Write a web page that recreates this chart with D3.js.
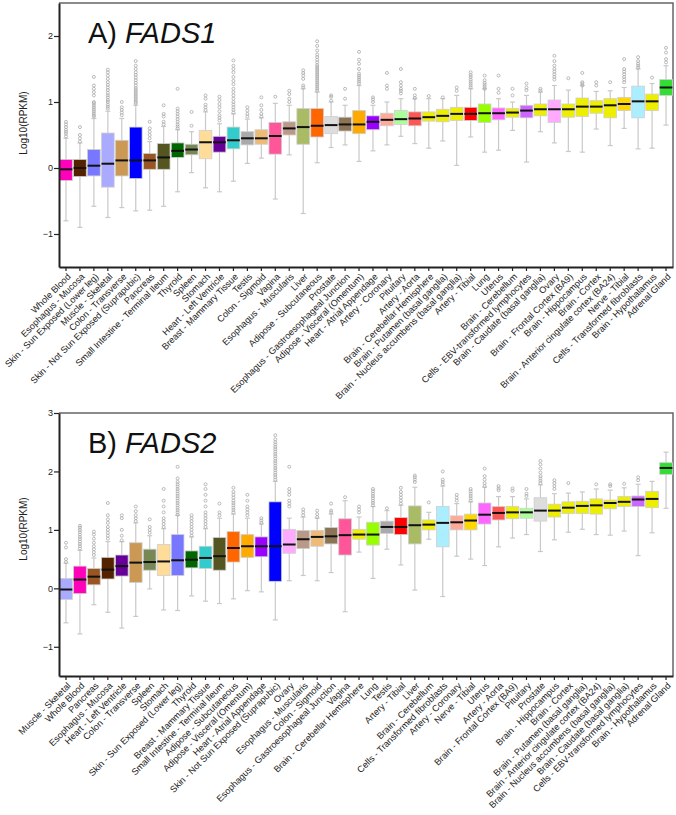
<!DOCTYPE html>
<html><head><meta charset="utf-8">
<script src="https://cdn.jsdelivr.net/npm/d3@7"></script>
<style>body{margin:0;background:#fff}svg{display:block}</style>
</head><body>
<svg id="c" width="676" height="815"></svg>
<script>
// ---------- Panel A: FADS1 ----------
const tissuesA = ["Whole Blood","Esophagus - Mucosa","Skin - Sun Exposed (Lower leg)","Muscle - Skeletal","Colon - Transverse","Skin - Not Sun Exposed (Suprapubic)","Pancreas","Small Intestine - Terminal Ileum","Thyroid","Spleen","Stomach","Heart - Left Ventricle","Breast - Mammary Tissue","Testis","Colon - Sigmoid","Vagina","Esophagus - Muscularis","Liver","Adipose - Subcutaneous","Prostate","Esophagus - Gastroesophageal Junction","Adipose - Visceral (Omentum)","Heart - Atrial Appendage","Artery - Coronary","Pituitary","Artery - Aorta","Brain - Cerebellar Hemisphere","Brain - Putamen (basal ganglia)","Brain - Nucleus accumbens (basal ganglia)","Artery - Tibial","Lung","Uterus","Brain - Cerebellum","Cells - EBV-transformed lymphocytes","Brain - Caudate (basal ganglia)","Ovary","Brain - Frontal Cortex (BA9)","Brain - Hippocampus","Brain - Cortex","Brain - Anterior cingulate cortex (BA24)","Nerve - Tibial","Cells - Transformed fibroblasts","Brain - Hypothalamus","Adrenal Gland"];
const loA  = [-0.8,-0.9,-0.58,-0.75,-0.6,-0.65,-0.64,-0.58,-0.36,-0.07,-0.3,-0.36,-0.2,0.07,0.15,-0.47,0.2,-0.69,0.08,0.31,0.35,0.1,0.26,0.35,0.48,0.37,0.3,0.41,0.04,0.47,0.24,0.27,0.57,0.09,0.55,0.38,0.25,0.24,0.59,0.34,0.6,0.29,0.3,0.65];
const q1A  = [-0.19,-0.13,-0.12,-0.29,-0.12,-0.16,-0.02,-0.02,0.16,0.2,0.14,0.24,0.29,0.35,0.36,0.21,0.5,0.36,0.47,0.52,0.56,0.52,0.58,0.64,0.66,0.64,0.71,0.7,0.72,0.72,0.69,0.73,0.77,0.76,0.79,0.69,0.77,0.78,0.83,0.76,0.87,0.76,0.87,1.1];
const medA = [-0.02,0.0,0.035,0.065,0.115,0.115,0.115,0.16,0.26,0.28,0.39,0.39,0.42,0.45,0.45,0.485,0.6,0.62,0.64,0.65,0.66,0.66,0.7,0.73,0.74,0.75,0.77,0.79,0.82,0.82,0.83,0.83,0.84,0.87,0.89,0.89,0.89,0.93,0.93,0.95,0.97,1.01,1.01,1.22];
const q3A  = [0.13,0.13,0.28,0.53,0.42,0.62,0.22,0.37,0.38,0.36,0.57,0.48,0.62,0.55,0.58,0.69,0.7,0.9,0.9,0.78,0.77,0.87,0.79,0.83,0.87,0.85,0.85,0.89,0.92,0.92,0.97,0.91,0.9,0.95,0.97,1.03,0.97,1.06,1.02,1.05,1.07,1.24,1.12,1.34];
const hiA  = [0.45,0.38,0.75,0.86,0.75,0.95,0.4,0.63,0.58,0.55,0.85,0.67,0.82,0.74,0.76,0.98,0.95,1.2,1.15,1.0,0.95,1.25,0.95,1.0,1.05,1.05,1.05,1.05,1.1,1.2,1.2,1.05,1.0,1.1,1.15,1.25,1.18,1.25,1.16,1.17,1.22,1.5,1.28,1.55];
const outA = [
 [0.48,0.52,0.55,0.58,0.62,0.66,0.7],[0.4,0.45,0.5,0.62],
 [0.78,0.8,0.83,0.86,0.89,0.92,0.95,0.98,1.0,1.1,1.15,1.2,1.25,1.38],
 [0.9,0.93,0.96,1.0,1.03,1.07,1.1,1.14,1.18,1.22,1.26,1.3,1.35,1.4,1.45,1.49],
 [0.8,0.84,0.88,0.92,1.0],
 [0.98,1.0,1.03,1.06,1.09,1.12,1.15,1.18,1.21,1.25,1.29,1.33,1.37,1.41,1.45,1.5,1.55,1.62],
 [0.45,0.5,0.55,0.6,0.7],[0.66,0.7,0.78,0.82,0.95],
 [0.6,0.63,0.66,0.7,0.74,0.78,0.82,0.86,0.9,1.2],[0.64,0.85],
 [0.88,0.92,0.96,1.05,1.1],[0.72,0.76,0.8,0.86,0.92,0.97,1.03,1.08],
 [0.84,0.88,0.92,0.96,1.0,1.05,1.1,1.15,1.2,1.27,1.32,1.38,1.45,1.5,1.55,1.63],
 [0.78,0.82,0.87,0.92],[0.78,0.82,0.88,0.95,1.07],[1.08],[1.0,1.05,1.12,1.17],
 [1.22,1.25,1.35,1.4,1.44,1.48],
 [1.17,1.2,1.23,1.26,1.29,1.32,1.35,1.38,1.41,1.44,1.47,1.5,1.53,1.56,1.6,1.64,1.68,1.72,1.78,1.85,1.92],
 [1.02,1.08,1.1],[1.05,1.2],[1.28,1.31,1.34,1.37,1.4,1.43,1.5,1.58,1.64,1.76],
 [1.0,1.04,1.07],[1.2,1.25,1.44],[1.13,1.17,1.2,1.25,1.3,1.5],[1.06,1.1,1.2],
 [1.09],[1.07],[1.17,1.22],[1.22,1.25,1.28,1.31,1.34,1.38,1.41,1.45],
 [1.2,1.23,1.26,1.29,1.33,1.4],[1.14,1.2,1.4],[1.1,1.2],[1.18,1.22,1.28],[1.17,1.2],
 [1.34,1.38,1.42,1.46,1.5,1.55,1.62,1.7],[1.36],[1.25,1.28,1.3,1.44],[1.25,1.3],[1.3],
 [1.3,1.34,1.38,1.42,1.46,1.5,1.65],[1.52,1.55,1.58,1.62,1.68],[1.37],[1.6,1.65,1.75,1.82]
];
const yTicksA = [-1,0,1,2];

// ---------- Panel B: FADS2 ----------
const tissuesB = ["Muscle - Skeletal","Whole Blood","Pancreas","Esophagus - Mucosa","Heart - Left Ventricle","Colon - Transverse","Spleen","Stomach","Skin - Sun Exposed (Lower leg)","Thyroid","Breast - Mammary Tissue","Small Intestine - Terminal Ileum","Adipose - Subcutaneous","Adipose - Visceral (Omentum)","Heart - Atrial Appendage","Skin - Not Sun Exposed (Suprapubic)","Ovary","Esophagus - Muscularis","Colon - Sigmoid","Esophagus - Gastroesophageal Junction","Vagina","Brain - Cerebellar Hemisphere","Lung","Testis","Artery - Tibial","Liver","Brain - Cerebellum","Cells - Transformed fibroblasts","Artery - Coronary","Nerve - Tibial","Uterus","Artery - Aorta","Brain - Frontal Cortex (BA9)","Pituitary","Prostate","Brain - Hippocampus","Brain - Cortex","Brain - Putamen (basal ganglia)","Brain - Anterior cingulate cortex (BA24)","Brain - Nucleus accumbens (basal ganglia)","Brain - Caudate (basal ganglia)","Cells - EBV-transformed lymphocytes","Brain - Hypothalamus","Adrenal Gland"];
const loB  = [-0.59,-0.78,-0.28,-0.41,-0.68,-0.48,-0.01,-0.37,-0.38,-0.13,-0.22,-0.26,-0.18,-0.04,-0.06,-0.54,0.13,0.22,0.13,0.27,-0.4,0.62,0.17,0.67,0.4,-0.03,0.84,-0.14,0.55,0.5,0.39,0.71,0.86,0.92,0.63,0.83,0.96,1.01,0.92,0.91,0.98,0.56,0.95,1.37];
const q1B  = [-0.19,-0.09,0.06,0.16,0.21,0.1,0.31,0.22,0.22,0.35,0.34,0.31,0.45,0.53,0.54,0.12,0.6,0.68,0.72,0.76,0.57,0.84,0.74,0.94,0.92,0.76,1.0,0.71,1.0,1.0,1.1,1.17,1.19,1.2,1.15,1.22,1.28,1.28,1.27,1.36,1.4,1.4,1.38,1.95];
const medB = [-0.02,0.15,0.2,0.32,0.38,0.44,0.45,0.46,0.48,0.49,0.52,0.55,0.69,0.72,0.72,0.72,0.75,0.84,0.88,0.89,0.91,0.92,0.92,1.05,1.05,1.08,1.09,1.12,1.13,1.16,1.26,1.29,1.3,1.3,1.33,1.33,1.38,1.41,1.42,1.46,1.48,1.52,1.53,2.06];
const q3B  = [0.17,0.38,0.34,0.53,0.57,0.78,0.67,0.75,0.92,0.64,0.72,0.87,0.97,0.92,0.88,1.48,1.01,0.99,0.99,1.04,1.19,1.01,1.13,1.15,1.21,1.41,1.17,1.4,1.24,1.27,1.46,1.4,1.4,1.37,1.55,1.44,1.48,1.49,1.53,1.51,1.57,1.58,1.66,2.15];
const hiB  = [0.43,0.65,0.52,0.8,0.8,1.12,0.9,1.02,1.25,0.88,1.02,1.2,1.27,1.2,1.1,1.83,1.2,1.22,1.2,1.27,1.5,1.22,1.4,1.33,1.42,1.73,1.3,1.75,1.45,1.48,1.73,1.57,1.57,1.53,1.77,1.62,1.63,1.65,1.7,1.68,1.72,1.78,1.83,2.33];
const outB = [
 [0.45,0.5,0.7,0.78],[0.68,0.72,0.76,0.8,0.84,0.88,0.92,0.96,1.0,1.04,1.07],
 [0.57,0.62,0.67,0.72,0.78,0.85,0.92,0.97],[0.85,0.9,0.95,1.0,1.05,1.12,1.18,1.25,1.46],
 [0.82,0.9,1.0,1.2,1.25],[1.15,1.2,1.25,1.32,1.4],[0.95,1.0,1.05,1.18],
 [1.05,1.1,1.15,1.2,1.3,1.4,1.5,1.7],
 [1.26,1.3,1.34,1.38,1.42,1.46,1.5,1.54,1.58,1.62,1.66,1.7,1.74,1.78,1.82,1.88,2.08],
 [0.9,0.95,1.0,1.05,1.1,1.15,1.2,1.25],
 [1.05,1.1,1.15,1.2,1.25,1.3,1.4,1.5,1.6,1.7,1.78],[1.25,1.3,1.45],
 [1.3,1.34,1.38,1.42,1.46,1.5,1.55,1.6,1.65,1.72],[1.25,1.3,1.35,1.4,1.5,1.6],[1.12,1.16,1.2],
 [1.86,1.9,1.94,1.98,2.02,2.06,2.1,2.14,2.18,2.22,2.26,2.3,2.34,2.38,2.42,2.46,2.5,2.55,2.62],
 [1.4,1.45,1.5,1.6,1.65,1.7,2.08],[1.25,1.3,1.35],[1.22,1.27,1.33],[1.3,1.33,1.45],
 [1.56],[1.3,1.35,1.4],[1.42,1.46,1.5,1.54,1.58,1.62,1.66,1.7],[1.37],
 [1.45,1.5,1.55,1.6,1.65,1.72],[1.82,1.86,1.9,1.93],[1.47],[1.78,1.82,1.86,2.0],
 [1.5,1.55,1.6],[1.5,1.54,1.58,1.62,1.66,1.7],[1.75,1.8,1.86,1.92,2.05],[1.68,1.71,1.75],
 [1.67,1.71],[1.58,1.62,1.7],[1.8,1.84,1.88,1.92,1.98,2.05,2.12,2.18],[1.7,1.75,1.8,1.85],
 [1.8],[],[1.78],[1.75,1.78],[1.79],[1.85,1.9],[],[]
];
const yTicksB = [-1,0,1,2,3];

// tissue colours (GTEx palette)
const tissueColor = {
 "Whole Blood":"#FF00BB","Esophagus - Mucosa":"#552200","Skin - Sun Exposed (Lower leg)":"#7777FF",
 "Muscle - Skeletal":"#AAAAFF","Colon - Transverse":"#CC9955","Skin - Not Sun Exposed (Suprapubic)":"#0000FF",
 "Pancreas":"#995522","Small Intestine - Terminal Ileum":"#555522","Thyroid":"#006600","Spleen":"#778855",
 "Stomach":"#FFDD99","Heart - Left Ventricle":"#660099","Breast - Mammary Tissue":"#33CCCC","Testis":"#AAAAAA",
 "Colon - Sigmoid":"#EEBB77","Vagina":"#FF5599","Esophagus - Muscularis":"#BB9988","Liver":"#AABB66",
 "Adipose - Subcutaneous":"#FF6600","Prostate":"#DDDDDD","Esophagus - Gastroesophageal Junction":"#8B7355",
 "Adipose - Visceral (Omentum)":"#FFAA00","Heart - Atrial Appendage":"#9900FF","Artery - Coronary":"#FFAA99",
 "Pituitary":"#AAFF99","Artery - Aorta":"#FF5555","Artery - Tibial":"#FF0000","Lung":"#99FF00","Uterus":"#FF66FF",
 "Cells - EBV-transformed lymphocytes":"#CC66FF","Ovary":"#FFAAFF","Nerve - Tibial":"#FFD700",
 "Cells - Transformed fibroblasts":"#AAEEFF","Adrenal Gland":"#33DD33"
};
const colorOf = t => tissueColor[t] || "#EEEE00";

const svg = d3.select("#c");
const FONT = "Arial, 'Liberation Sans', Helvetica, sans-serif";

function panel(cfg){
  const {tissues, lo, q1, med, q3, hi, out, domain, ticks, top, bottom, title, label, labelY} = cfg;
  const left = 59, right = 673;
  const x = d3.scaleBand().domain(tissues).range([left, right]).paddingInner(0.09).paddingOuter(0.045);
  const y = d3.scaleLinear().domain(domain).range([bottom, top]);
  const g = svg.append("g");
  const bw = x.bandwidth();
  const cx = t => x(t) + bw/2;

  // frame top/right
  g.append("path").attr("d", `M${left},${top}H${right}V${bottom}`)
   .attr("fill","none").attr("stroke","#666").attr("stroke-width",1.5);

  const data = tissues.map((t,i)=>({t, lo:lo[i], q1:q1[i], med:med[i], q3:q3[i], hi:hi[i], out:out[i]}));
  const bx = g.selectAll("g.b").data(data).join("g").attr("class","b");
  const wc = "#c9c9c9";
  bx.append("line").attr("x1",d=>cx(d.t)).attr("x2",d=>cx(d.t))
    .attr("y1",d=>y(d.lo)).attr("y2",d=>y(d.hi)).attr("stroke",wc).attr("stroke-width",1.2);
  bx.append("line").attr("x1",d=>cx(d.t)-2.5).attr("x2",d=>cx(d.t)+2.5)
    .attr("y1",d=>y(d.lo)).attr("y2",d=>y(d.lo)).attr("stroke",wc).attr("stroke-width",1.2);
  bx.append("line").attr("x1",d=>cx(d.t)-2.5).attr("x2",d=>cx(d.t)+2.5)
    .attr("y1",d=>y(d.hi)).attr("y2",d=>y(d.hi)).attr("stroke",wc).attr("stroke-width",1.2);
  bx.selectAll("circle").data(d=>d.out.map(v=>({t:d.t,v}))).join("circle")
    .attr("cx",d=>cx(d.t)).attr("cy",d=>y(d.v)).attr("r",1.5)
    .attr("fill","none").attr("stroke","#aaa").attr("stroke-width",0.8);
  bx.append("rect").attr("x",d=>x(d.t)).attr("width",bw)
    .attr("y",d=>y(d.q3)).attr("height",d=>y(d.q1)-y(d.q3))
    .attr("fill",d=>colorOf(d.t)).attr("stroke","#cfcfcf").attr("stroke-width",0.8);
  bx.append("line").attr("x1",d=>x(d.t)).attr("x2",d=>x(d.t)+bw)
    .attr("y1",d=>y(d.med)).attr("y2",d=>y(d.med)).attr("stroke","#111").attr("stroke-width",2);

  // axes
  const ya = g.append("g").attr("transform",`translate(${left},0)`)
    .call(d3.axisLeft(y).tickValues(ticks).tickSize(5).tickSizeOuter(0).tickFormat(d3.format("d")));
  ya.select(".domain").attr("stroke","#222").attr("stroke-width",2);
  ya.selectAll(".tick line").attr("stroke","#222").attr("stroke-width",1.2);
  ya.selectAll(".tick text").attr("font-family",FONT).attr("font-size",9).attr("fill","#222").attr("x",-6);

  const xa = g.append("g").attr("transform",`translate(0,${bottom})`)
    .call(d3.axisBottom(x).tickSize(4).tickSizeOuter(0));
  xa.select(".domain").attr("stroke","#222").attr("stroke-width",2);
  xa.selectAll(".tick line").attr("stroke","#222").attr("stroke-width",1.2);
  xa.selectAll(".tick text").attr("font-family",FONT).attr("font-size",9.1).attr("fill","#222")
    .attr("text-anchor","end").attr("y",0).attr("dy","0.35em")
    .attr("transform","translate(3,8) rotate(-45)");

  // title
  const tt = g.append("text").attr("x",88).attr("y",top+40).attr("font-family",FONT)
    .attr("font-size",29).attr("fill","#111");
  tt.append("tspan").text(title[0]);
  tt.append("tspan").attr("font-style","italic").text(title[1]);

  g.append("text").attr("transform",`translate(27,${labelY}) rotate(-90)`)
    .attr("text-anchor","middle").attr("font-family",FONT).attr("font-size",10).attr("fill","#222").text(label);
}

panel({tissues:tissuesA, lo:loA, q1:q1A, med:medA, q3:q3A, hi:hiA, out:outA,
  domain:[-1.5,2.5], ticks:yTicksA, top:3, bottom:267, title:["A) ","FADS1"], label:"Log10(RPKM)", labelY:123});
panel({tissues:tissuesB, lo:loB, q1:q1B, med:medB, q3:q3B, hi:hiB, out:outB,
  domain:[-1.5,3], ticks:yTicksB, top:413, bottom:676, title:["B) ","FADS2"], label:"Log10(RPKM)", labelY:529});
</script>
</body></html>
